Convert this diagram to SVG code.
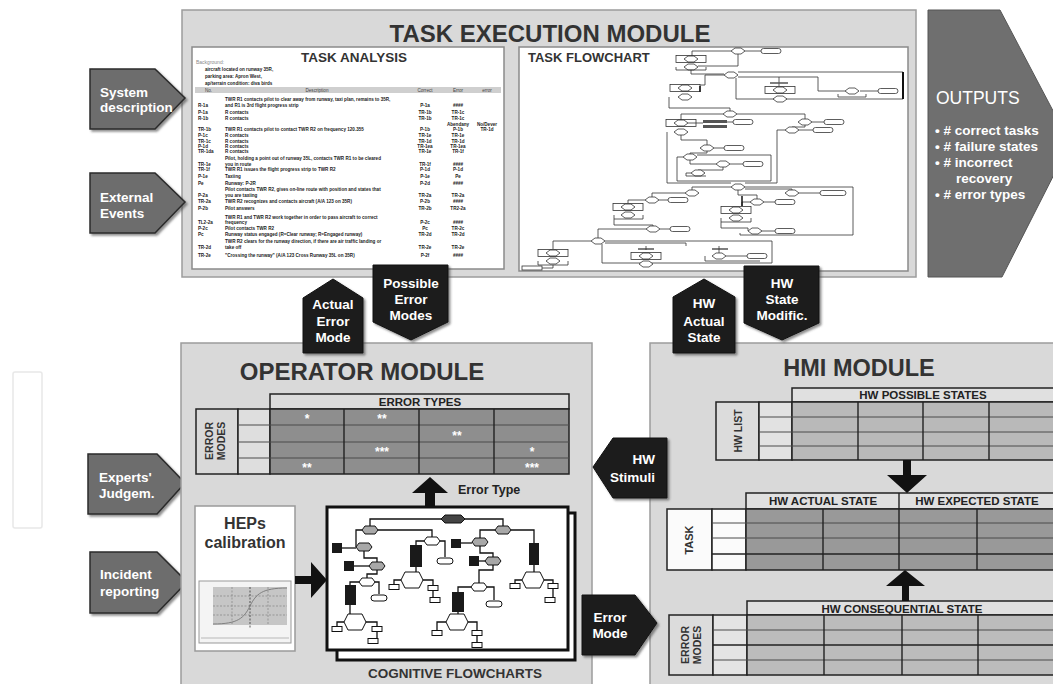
<svg xmlns="http://www.w3.org/2000/svg" width="1053" height="684" viewBox="0 0 1053 684">
<defs>
<style>
.mod{fill:#d9d9d9;stroke:#9c9c9c;stroke-width:1.5}
.ttl{font-family:"Liberation Sans",Arial,sans-serif;font-weight:bold;fill:#333}
.inp{fill:#6d6d6d;stroke:#2a2a2a;stroke-width:1.5;filter:url(#sh)}
.blk{fill:#1e1e1e;stroke:#111;stroke-width:1;filter:url(#sh)}
.wt{font-family:"Liberation Sans",Arial,sans-serif;font-weight:bold;fill:#fff;font-size:13.5px}
.tiny{font-family:"Liberation Sans",Arial,sans-serif;font-size:4.6px;fill:#222;font-weight:bold}
.fl{fill:none;stroke:#333;stroke-width:0.8}
.fd{fill:#fff;stroke:#333;stroke-width:0.8}
.cg{fill:#a8a8a8;stroke:#111;stroke-width:1}
.cw{fill:#fff;stroke:#111;stroke-width:1}
.ck{fill:#1a1a1a}
.cl{fill:none;stroke:#111;stroke-width:1.3}
.hd{font-family:"Liberation Sans",Arial,sans-serif;font-weight:bold;fill:#222;font-size:11.5px}
.tb{stroke:#222;stroke-width:1.5}
.rl{stroke:#4a4a4a;stroke-width:1}
.cl2{stroke:#222;stroke-width:1.4}
.st{font-family:"Liberation Sans",Arial,sans-serif;font-weight:bold;fill:#fff;font-size:12px;text-anchor:middle}
.arr{fill:#111}
</style>
<filter id="sh" x="-20%" y="-20%" width="140%" height="140%"><feDropShadow dx="2" dy="2" stdDeviation="1" flood-color="#444" flood-opacity="0.6"/></filter>
<path id="dm" d="M-7,0 L-3,-3 L3,-3 L7,0 L3,3 L-3,3 Z" class="fd"/>
<rect id="rr" x="-10" y="-2.5" width="20" height="5" rx="2.5" class="fd"/>
<rect id="rr2" x="-13" y="-2.5" width="26" height="5" rx="2.5" class="fd"/>
<rect id="bx" x="-15" y="-3.5" width="30" height="7" class="fl"/>
<polygon id="hx" points="-8,0 -5,-4 5,-4 8,0 5,4 -5,4"/>
<polygon id="hxb" points="-11,0 -7,-8 7,-8 11,0 7,8 -7,8" class="cw"/>
<rect id="sb" x="-5" y="-2.5" width="10" height="5" class="cw"/>
</defs>
<rect width="1053" height="684" fill="#fff"/>
<rect x="13" y="372" width="29" height="156" rx="2" fill="none" stroke="#e8e8e8" stroke-width="1.5"/>

<!-- TASK EXECUTION MODULE -->
<g id="task-execution-module">
<rect class="mod" x="182" y="10" width="734" height="267"/>
<text class="ttl" x="550" y="42" font-size="24" text-anchor="middle">TASK EXECUTION MODULE</text>
</g>

<g id="task-analysis">
<rect x="192" y="47" width="312" height="222" fill="#fff" stroke="#8a8a8a" stroke-width="1.5"/>
<text class="ttl" x="354" y="62" font-size="13.5" text-anchor="middle">TASK ANALYSIS</text>
<text class="tiny" x="196" y="63.5" style="fill:#8a8a8a;font-weight:normal;font-size:5px">Background:</text>
<text class="tiny" x="205" y="71">aircraft located on runway 35R,</text>
<text class="tiny" x="205" y="78">parking area: Apron West,</text>
<text class="tiny" x="205" y="85">ap/terrain condition: diva birds</text>
<rect x="195" y="87" width="306" height="6" fill="#cfcfcf"/>
<g class="tiny" style="font-weight:normal;fill:#444">
<text x="205" y="92">No.</text>
<text x="317" y="92" text-anchor="middle">Description</text>
<text x="425" y="92" text-anchor="middle">Correct</text>
<text x="458" y="92" text-anchor="middle">Error</text>
<text x="487" y="92" text-anchor="middle">error</text>
</g>
<g class="tiny">
<text x="225" y="100.6">TWR R1 contacts pilot to clear away from runway, taxi plan, remains to 35R,</text>
<text x="198" y="106.6">R-1a</text><text x="225" y="106.6">and R1 is 3rd flight progress strip</text><text x="425" y="106.6" text-anchor="middle">P-1a</text><text x="458" y="106.6" text-anchor="middle">####</text>
<text x="198" y="113.6">P-1a</text><text x="225" y="113.6">R contacts</text><text x="425" y="113.6" text-anchor="middle">TR-1b</text><text x="458" y="113.6" text-anchor="middle">TR-1c</text>
<text x="198" y="119.6">R-1b</text><text x="225" y="119.6">R contacts</text><text x="425" y="119.6" text-anchor="middle">TR-1b</text><text x="458" y="119.6" text-anchor="middle">TR-1c</text>
<text x="458" y="125.6" text-anchor="middle">Abendany</text><text x="487" y="125.6" text-anchor="middle">No/Dever</text>
<text x="198" y="130.6">TR-1b</text><text x="225" y="130.6">TWR R1 contacts pilot to contact TWR R2 on frequency 120.355</text><text x="425" y="130.6" text-anchor="middle">P-1b</text><text x="458" y="130.6" text-anchor="middle">P-1b</text><text x="487" y="130.6" text-anchor="middle">TR-1d</text>
<text x="198" y="136.6">P-1c</text><text x="225" y="136.6">R contacts</text><text x="425" y="136.6" text-anchor="middle">TR-1e</text><text x="458" y="136.6" text-anchor="middle">TR-1e</text>
<text x="198" y="142.6">TR-1c</text><text x="225" y="142.6">R contacts</text><text x="425" y="142.6" text-anchor="middle">TR-1d</text><text x="458" y="142.6" text-anchor="middle">TR-1d</text>
<text x="198" y="147.6">P-1d</text><text x="225" y="147.6">R contacts</text><text x="425" y="147.6" text-anchor="middle">TR-1ea</text><text x="458" y="147.6" text-anchor="middle">TR-1ea</text>
<text x="198" y="152.6">TR-1da</text><text x="225" y="152.6">R contacts</text><text x="425" y="152.6" text-anchor="middle">TR-1e</text><text x="458" y="152.6" text-anchor="middle">TR-1f</text>
<text x="225" y="159.6">Pilot, holding a point out of runway 35L, contacts TWR R1 to be cleared</text>
<text x="198" y="165.6">TR-1e</text><text x="225" y="165.6">you in route</text><text x="425" y="165.6" text-anchor="middle">TR-1f</text><text x="458" y="165.6" text-anchor="middle">####</text>
<text x="198" y="170.6">TR-1f</text><text x="225" y="170.6">TWR R1 issues the flight progress strip to TWR R2</text><text x="425" y="170.6" text-anchor="middle">P-1d</text><text x="458" y="170.6" text-anchor="middle">P-1d</text>
<text x="198" y="177.6">P-1e</text><text x="225" y="177.6">Taxiing</text><text x="425" y="177.6" text-anchor="middle">P-1e</text><text x="458" y="177.6" text-anchor="middle">Pe</text>
<text x="198" y="184.6">Pe</text><text x="225" y="184.6">Runway: P-2R</text><text x="425" y="184.6" text-anchor="middle">P-2d</text><text x="458" y="184.6" text-anchor="middle">####</text>
<text x="225" y="190.6">Pilot contacts TWR R2, gives on-line route with position and states that</text>
<text x="198" y="196.6">P-2a</text><text x="225" y="196.6">you are taxiing</text><text x="425" y="196.6" text-anchor="middle">TR-2a</text><text x="458" y="196.6" text-anchor="middle">TR-2a</text>
<text x="198" y="202.6">TR-2a</text><text x="225" y="202.6">TWR R2 recognizes and contacts aircraft (A/A 123 on 35R)</text><text x="425" y="202.6" text-anchor="middle">P-2b</text><text x="458" y="202.6" text-anchor="middle">####</text>
<text x="198" y="209.6">P-2b</text><text x="225" y="209.6">Pilot answers</text><text x="425" y="209.6" text-anchor="middle">TR-2b</text><text x="458" y="209.6" text-anchor="middle">TR2-2a</text>
<text x="225" y="218.6">TWR R1 and TWR R2 work together in order to pass aircraft to correct</text>
<text x="198" y="223.6">TL2-2a</text><text x="225" y="223.6">frequency</text><text x="425" y="223.6" text-anchor="middle">P-2c</text><text x="458" y="223.6" text-anchor="middle">####</text>
<text x="198" y="229.6">P-2c</text><text x="225" y="229.6">Pilot contacts TWR R2</text><text x="425" y="229.6" text-anchor="middle">Pc</text><text x="458" y="229.6" text-anchor="middle">TR-2c</text>
<text x="198" y="235.6">Pc</text><text x="225" y="235.6">Runway status engaged (R=Clear runway; R=Engaged runway)</text><text x="425" y="235.6" text-anchor="middle">TR-2d</text><text x="458" y="235.6" text-anchor="middle">TR-2d</text>
<text x="225" y="242.6">TWR R2 clears for the runway direction, if there are air traffic landing or</text>
<text x="198" y="248.6">TR-2d</text><text x="225" y="248.6">take off</text><text x="425" y="248.6" text-anchor="middle">TR-2e</text><text x="458" y="248.6" text-anchor="middle">TR-2e</text>
<text x="198" y="256.6">TR-2e</text><text x="225" y="256.6">"Crossing the runway" (A/A 123 Cross Runway 35L on 35R)</text><text x="425" y="256.6" text-anchor="middle">P-2f</text><text x="458" y="256.6" text-anchor="middle">####</text>
</g>
</g>

<g id="task-flowchart">
<rect x="519" y="47" width="389" height="224" fill="#fff" stroke="#8a8a8a" stroke-width="1.5"/>
<text class="ttl" x="528" y="62" font-size="13">TASK FLOWCHART</text>
<g>
<polyline class="fl" points="731,51 692,51 692,56"/>
<polyline class="fl" points="745,51 761,51"/>
<polyline class="fl" points="738,54 738,66 698,66"/>
<use href="#bx" x="691" y="59"/>
<use href="#dm" x="738" y="51"/><use href="#rr" x="771" y="51"/>
<use href="#dm" x="691" y="59"/><use href="#dm" x="691" y="67"/>
<polyline class="fl" points="676,67 676,70 706,70 706,67"/>
<polyline class="fl" points="691,70 691,74 724,74"/>
<use href="#dm" x="731" y="75"/>
<polyline class="fl" points="738,72 903,72 903,99 736,99 736,78"/>
<line x1="903" y1="72" x2="903" y2="99" stroke="#111" stroke-width="2"/>
<polyline class="fl" points="738,77 818,77 818,91 845,91"/>
<polyline class="fl" points="860,91 878,91"/>
<use href="#dm" x="852" y="91"/><use href="#rr" x="888" y="91"/>
<polyline class="fl" points="838,94 838,97 866,97 866,94"/>
<polyline class="fl" points="779,77 779,86"/>
<line x1="770" y1="83" x2="788" y2="83" stroke="#555" stroke-width="1.5"/>
<use href="#bx" x="780" y="90"/><use href="#dm" x="780" y="90"/><use href="#dm" x="780" y="99"/>
<polyline class="fl" points="724,75 705,75 705,85 700,85"/>
<use href="#bx" x="685" y="88"/><use href="#dm" x="685" y="88"/><use href="#dm" x="685" y="97"/>
<line x1="700" y1="86" x2="700" y2="92" stroke="#111" stroke-width="1.5"/>
<polyline class="fl" points="669,97 669,108 730,108 730,111"/>
<use href="#dm" x="730" y="114"/>
<polyline class="fl" points="723,114 681,114 681,120"/>
<polyline class="fl" points="737,114 805,114 805,119"/>
<use href="#bx" x="681" y="123"/><use href="#dm" x="681" y="123"/>
<rect x="703" y="120" width="24" height="3" fill="#555"/>
<rect x="703" y="125" width="24" height="3" fill="#555"/>
<polyline class="fl" points="688,123 703,123"/><polyline class="fl" points="727,122 733,122"/>
<use href="#rr" x="743" y="122"/>
<use href="#dm" x="681" y="132"/>
<use href="#dm" x="805" y="122"/><polyline class="fl" points="812,122 824,122"/><use href="#rr" x="834" y="122"/>
<polyline class="fl" points="805,125 805,127 792,127"/>
<use href="#dm" x="792" y="130"/><polyline class="fl" points="799,130 813,130"/><use href="#rr" x="823" y="130"/>
<polyline class="fl" points="785,130 777,130 777,183 745,183"/>
<polyline class="fl" points="667,132 667,183 731,183"/>
<polyline class="fl" points="681,135 681,140 707,140 707,145"/>
<use href="#dm" x="707" y="148"/><polyline class="fl" points="714,148 724,148"/><use href="#rr" x="734" y="148"/>
<polyline class="fl" points="707,151 707,153 690,153 690,154"/>
<use href="#dm" x="690" y="157"/>
<polyline class="fl" points="677,157 683,157"/>
<polyline class="fl" points="677,157 677,181 771,181 771,155 697,155"/>
<polyline class="fl" points="690,160 690,164 716,164"/>
<use href="#dm" x="723" y="164"/><polyline class="fl" points="730,164 743,164"/><use href="#rr" x="753" y="164"/>
<polyline class="fl" points="723,167 723,170 698,170"/>
<use href="#dm" x="698" y="173"/>
<polyline class="fl" points="691,173 686,173 686,176 706,176"/>
<use href="#dm" x="738" y="187"/>
<polyline class="fl" points="745,187 853,187 853,235 740,235 740,233"/>
<polyline class="fl" points="731,187 692,187 692,190"/>
<polyline class="fl" points="745,189 792,189 792,190"/>
<use href="#dm" x="692" y="193"/>
<use href="#dm" x="792" y="193"/><polyline class="fl" points="799,193 820,193"/><use href="#rr2" x="833" y="193"/>
<polyline class="fl" points="738,190 738,195 757,195 757,199"/>
<use href="#dm" x="757" y="202"/><polyline class="fl" points="764,202 775,202"/><use href="#rr" x="785" y="202"/>
<polyline class="fl" points="685,193 652,193 652,197"/>
<use href="#dm" x="652" y="200"/><polyline class="fl" points="659,200 668,200"/><use href="#rr" x="678" y="200"/>
<polyline class="fl" points="645,200 628,200 628,203"/>
<use href="#bx" x="628" y="207"/><use href="#dm" x="628" y="207"/><use href="#dm" x="628" y="215"/>
<polyline class="fl" points="614,215 614,219 643,219 643,215"/>
<polyline class="fl" points="750,202 742,202 742,206"/>
<use href="#bx" x="736" y="210"/><use href="#dm" x="736" y="210"/><use href="#dm" x="736" y="218"/>
<line x1="742" y1="196" x2="742" y2="206" stroke="#111" stroke-width="1.5"/>
<polyline class="fl" points="721,218 721,222 751,222 751,218"/>
<polyline class="fl" points="614,219 614,225 653,225 653,226"/>
<use href="#dm" x="653" y="229"/><polyline class="fl" points="660,229 670,229"/><use href="#rr" x="680" y="229"/>
<polyline class="fl" points="721,222 721,228 748,228 748,231"/>
<use href="#dm" x="755" y="231"/><polyline class="fl" points="762,231 775,231"/><use href="#rr" x="785" y="231"/>
<polyline class="fl" points="646,229 598,229 598,238"/>
<use href="#dm" x="598" y="241"/>
<polyline class="fl" points="591,241 553,241 553,249"/>
<polyline class="fl" points="605,241 772,241 772,263 602,263 602,244"/>
<polyline class="fl" points="605,243 686,243 686,246"/>
<use href="#bx" x="553" y="253"/><use href="#dm" x="553" y="253"/><use href="#dm" x="553" y="261"/>
<polyline class="fl" points="538,261 538,265 568,265 568,261"/>
<line x1="638" y1="249" x2="654" y2="249" stroke="#555" stroke-width="1.5"/>
<line x1="712" y1="249" x2="728" y2="249" stroke="#555" stroke-width="1.5"/>
<polyline class="fl" points="646,246 646,250"/>
<use href="#bx" x="646" y="256"/><use href="#dm" x="646" y="256"/><use href="#dm" x="646" y="264"/>
<polyline class="fl" points="719,246 719,253"/>
<use href="#dm" x="719" y="256"/><polyline class="fl" points="726,256 747,256"/><use href="#rr" x="757" y="256"/>
<polyline class="fl" points="705,256 705,261 760,261"/>
<polyline class="fl" points="553,265 553,268 542,268"/>
<rect x="522" y="266" width="20" height="4" class="fd"/>
</g>
</g>

<g id="outputs">
<polygon points="928,10 1000,10 1070,143 1002,277 928,277" fill="#6f6f6f" stroke="#555" stroke-width="1"/>
<text x="936" y="104" font-family="Liberation Sans, Arial, sans-serif" font-size="17.5" fill="#fff">OUTPUTS</text>
<g font-family="Liberation Sans, Arial, sans-serif" font-size="13.5" font-weight="bold" fill="#fff">
<text x="935" y="135">• # correct tasks</text>
<text x="935" y="151">• # failure states</text>
<text x="935" y="167">• #  incorrect</text>
<text x="956" y="183">recovery</text>
<text x="935" y="199">• # error types</text>
</g>
</g>

<g id="input-system-description">
<polygon class="inp" points="90,69 155,69 185,98 155,129 90,129"/>
<text class="wt" x="100" y="97">System</text><text class="wt" x="100" y="112">description</text>
</g>
<g id="input-external-events">
<polygon class="inp" points="90,173 155,173 185,202 155,233 90,233"/>
<text class="wt" x="100" y="202">External</text><text class="wt" x="100" y="218">Events</text>
</g>
<g id="input-experts-judgement">
<polygon class="inp" points="88,454 157,454 185,483 157,514 88,514"/>
<text class="wt" x="99" y="482">Experts'</text><text class="wt" x="99" y="498">Judgem.</text>
</g>
<g id="input-incident-reporting">
<polygon class="inp" points="90,552 157,552 187,582 157,613 90,613"/>
<text class="wt" x="100" y="579">Incident</text><text class="wt" x="100" y="596">reporting</text>
</g>

<!-- OPERATOR MODULE -->
<g id="operator-module">
<rect class="mod" x="181" y="343" width="411" height="350"/>
<text class="ttl" x="362" y="380" font-size="24" text-anchor="middle">OPERATOR MODULE</text>
</g>
<g id="error-types-table">
<rect class="tb" x="270" y="394" width="299" height="15" fill="#dcdcdc"/>
<text class="hd" x="420" y="405.5" text-anchor="middle">ERROR TYPES</text>
<rect class="tb" x="196" y="409" width="42" height="65" fill="#d9d9d9"/>
<rect class="tb" x="238" y="409" width="32" height="65" fill="#dedede"/>
<rect class="tb" x="270" y="409" width="299" height="65" fill="#8e8e8e"/>
<g class="rl"><line x1="238" y1="425" x2="569" y2="425"/><line x1="238" y1="442" x2="569" y2="442"/><line x1="238" y1="458" x2="569" y2="458"/></g>
<g class="cl2"><line x1="344" y1="409" x2="344" y2="474"/><line x1="419" y1="409" x2="419" y2="474"/><line x1="494" y1="409" x2="494" y2="474"/></g>
<g font-family="Liberation Sans, Arial, sans-serif" font-weight="bold" font-size="10.5" fill="#333" text-anchor="middle">
<text transform="translate(213,441) rotate(-90)">ERROR</text>
<text transform="translate(225,441) rotate(-90)">MODES</text>
</g>
<text class="st" x="307" y="423">*</text><text class="st" x="382" y="423">**</text>
<text class="st" x="457" y="439.5">**</text>
<text class="st" x="382" y="456">***</text><text class="st" x="532" y="456">*</text>
<text class="st" x="307" y="472">**</text><text class="st" x="532" y="472">***</text>
</g>
<g id="heps-calibration">
<rect x="195" y="506" width="100" height="145" fill="#fff" stroke="#9a9a9a" stroke-width="1.5"/>
<text class="ttl" x="245" y="529" font-size="16" text-anchor="middle">HEPs</text>
<text class="ttl" x="245" y="548" font-size="16" text-anchor="middle">calibration</text>
<rect x="199" y="581" width="92" height="62" fill="#f4f4f4" stroke="#999" stroke-width="1"/>
<rect x="213" y="587" width="74" height="38" fill="#c6c6c6"/>
<g stroke="#777" stroke-width="0.6" stroke-dasharray="2,1.5">
<line x1="232" y1="587" x2="232" y2="625"/><line x1="268" y1="587" x2="268" y2="625"/>
<line x1="213" y1="596" x2="287" y2="596"/><line x1="213" y1="606" x2="287" y2="606"/><line x1="213" y1="615" x2="287" y2="615"/>
</g>
<line x1="250" y1="587" x2="250" y2="628" stroke="#333" stroke-width="0.8" stroke-dasharray="2,1.5"/>
<path d="M213,624 C238,624 244,618 250,606 S262,588 287,588" fill="none" stroke="#777" stroke-width="0.9"/>
<line x1="201" y1="638" x2="289" y2="638" stroke="#aaa" stroke-width="0.8"/>
</g>
<g id="cognitive-flowcharts">
<rect x="337" y="513" width="238" height="147" fill="#fff" stroke="#111" stroke-width="3"/>
<rect x="327" y="507" width="241" height="143" fill="#fff" stroke="#111" stroke-width="3"/>
<g>
<polyline class="cl" points="441,519 370,519 370,526"/>
<polyline class="cl" points="465,519 503,519 503,526"/>
<polyline class="cl" points="362,530 356,530 356,547"/>
<polyline class="cl" points="378,530 432,530 432,537"/>
<polyline class="cl" points="342,548 356,548"/>
<polyline class="cl" points="364,551 364,558 377,558 377,562"/>
<polyline class="cl" points="354,566 369,566"/>
<polyline class="cl" points="377,570 377,574 367,574 367,578"/>
<polyline class="cl" points="375,582 379,582 379,594"/>
<polyline class="cl" points="359,582 350,582 350,585"/>
<polyline class="cl" points="350,605 350,614"/>
<polyline class="cl" points="344,622 337,622 337,627"/>
<polyline class="cl" points="366,622 377,622 377,639"/>
<polyline class="cl" points="424,541 416,541 416,545"/>
<polyline class="cl" points="440,541 445,541 445,557"/>
<polyline class="cl" points="416,567 416,572"/>
<polyline class="cl" points="401,580 394,580 394,585"/>
<polyline class="cl" points="423,580 433,580 433,598"/>
<polyline class="cl" points="495,530 480,530 480,538"/>
<polyline class="cl" points="511,530 534,530 534,543"/>
<polyline class="cl" points="461,543 472,543"/>
<polyline class="cl" points="480,546 480,553 493,553 493,557"/>
<polyline class="cl" points="479,561 485,561"/>
<polyline class="cl" points="493,565 493,570 479,570 479,583"/>
<polyline class="cl" points="471,587 458,587 458,592"/>
<polyline class="cl" points="487,587 494,587 494,600"/>
<polyline class="cl" points="458,612 458,614"/>
<polyline class="cl" points="446,622 437,622 437,631"/>
<polyline class="cl" points="468,622 477,622 477,643"/>
<polyline class="cl" points="534,565 534,572"/>
<polyline class="cl" points="522,580 515,580 515,584"/>
<polyline class="cl" points="544,580 553,580 553,598"/>
<polygon points="441,519 445,515 461,515 465,519 461,523 445,523" fill="#444" stroke="#111"/>
<use href="#hx" x="370" y="530" class="cg"/>
<use href="#hx" x="364" y="547" class="cg"/>
<use href="#hx" x="377" y="566" class="cg"/>
<use href="#hx" x="367" y="582" class="cw"/>
<rect x="371" y="595" width="16" height="6" rx="3" class="cw"/>
<use href="#hx" x="432" y="541" class="cw"/>
<rect x="437" y="558" width="16" height="6" rx="3" class="cw"/>
<use href="#hx" x="503" y="530" class="cg"/>
<use href="#hx" x="480" y="542" class="cg"/>
<use href="#hx" x="493" y="561" class="cg"/>
<use href="#hx" x="479" y="587" class="cw"/>
<rect x="486" y="601" width="16" height="6" rx="3" class="cw"/>
<rect class="ck" x="332" y="543" width="10" height="10"/>
<rect class="ck" x="344" y="561" width="10" height="10"/>
<rect class="ck" x="345" y="585" width="11" height="20"/>
<rect class="ck" x="410" y="545" width="12" height="22"/>
<rect class="ck" x="451" y="539" width="10" height="9"/>
<rect class="ck" x="469" y="556" width="10" height="10"/>
<rect class="ck" x="452" y="592" width="12" height="20"/>
<rect class="ck" x="529" y="543" width="10" height="22"/>
<use href="#hxb" x="355" y="622"/>
<use href="#hxb" x="412" y="580"/>
<use href="#hxb" x="457" y="622"/>
<use href="#hxb" x="533" y="580"/>
<use href="#sb" x="337" y="629"/><use href="#sb" x="377" y="629"/><use href="#sb" x="373" y="641"/>
<use href="#sb" x="394" y="587"/><use href="#sb" x="433" y="588"/><use href="#sb" x="435" y="600"/>
<use href="#sb" x="437" y="633"/><use href="#sb" x="477" y="633"/><use href="#sb" x="477" y="645"/>
<use href="#sb" x="515" y="586"/><use href="#sb" x="553" y="586"/><use href="#sb" x="550" y="600"/>
</g>
<text class="ttl" x="455" y="678" font-size="13.5" text-anchor="middle">COGNITIVE FLOWCHARTS</text>
</g>
<text class="ttl" x="458" y="494" font-size="12.5" style="fill:#222">Error Type</text>

<!-- HMI MODULE -->
<g id="hmi-module">
<rect class="mod" x="650" y="343" width="420" height="350"/>
<text class="ttl" x="859" y="376" font-size="23.5" text-anchor="middle">HMI MODULE</text>
</g>
<g id="hw-possible-states-table">
<rect class="tb" x="792" y="388" width="270" height="14" fill="#e0e0e0"/>
<text class="hd" x="923" y="399" text-anchor="middle">HW POSSIBLE STATES</text>
<rect class="tb" x="716" y="402" width="43" height="58" fill="#dcdcdc"/>
<rect class="tb" x="759" y="402" width="33" height="58" fill="#e2e2e2"/>
<rect class="tb" x="792" y="402" width="270" height="58" fill="#b9b9b9"/>
<g class="rl"><line x1="759" y1="417" x2="1062" y2="417"/><line x1="759" y1="432" x2="1062" y2="432"/><line x1="759" y1="446" x2="1062" y2="446"/></g>
<g class="cl2"><line x1="858" y1="402" x2="858" y2="460"/><line x1="923" y1="402" x2="923" y2="460"/><line x1="989" y1="402" x2="989" y2="460"/></g>
<text transform="translate(742,431) rotate(-90)" font-family="Liberation Sans, Arial, sans-serif" font-weight="bold" font-size="10.5" fill="#333" text-anchor="middle">HW LIST</text>
</g>
<g id="hw-actual-expected-table">
<rect class="tb" x="746" y="493" width="320" height="16" fill="#e0e0e0"/>
<text class="hd" x="823" y="505" text-anchor="middle">HW ACTUAL STATE</text>
<text class="hd" x="977" y="505" text-anchor="middle">HW EXPECTED STATE</text>
<rect class="tb" x="667" y="509" width="45" height="61" fill="#fbfbfb"/>
<rect class="tb" x="712" y="509" width="34" height="61" fill="#fbfbfb"/>
<rect class="tb" x="746" y="509" width="320" height="61" fill="#999"/>
<g class="rl"><line x1="712" y1="523" x2="1062" y2="523"/><line x1="712" y1="538" x2="1062" y2="538"/><line x1="712" y1="554" x2="1062" y2="554" stroke="#222" stroke-width="1.5"/></g>
<g class="cl2"><line x1="823" y1="509" x2="823" y2="570"/><line x1="899" y1="493" x2="899" y2="570"/><line x1="977" y1="509" x2="977" y2="570"/></g>
<text transform="translate(693,540) rotate(-90)" font-family="Liberation Sans, Arial, sans-serif" font-weight="bold" font-size="11" fill="#333" text-anchor="middle">TASK</text>
</g>
<g id="hw-consequential-table">
<rect class="tb" x="747" y="601" width="320" height="14" fill="#e0e0e0"/>
<text class="hd" x="902" y="612.5" text-anchor="middle" font-size="12">HW CONSEQUENTIAL STATE</text>
<rect class="tb" x="669" y="615" width="44" height="60" fill="#dcdcdc"/>
<rect class="tb" x="713" y="615" width="34" height="60" fill="#e4e4e4"/>
<rect class="tb" x="747" y="615" width="320" height="60" fill="#bcbcbc"/>
<g class="rl"><line x1="713" y1="630" x2="1062" y2="630"/><line x1="713" y1="645" x2="1062" y2="645" stroke="#222" stroke-width="1.5"/><line x1="713" y1="660" x2="1062" y2="660"/></g>
<g class="cl2"><line x1="824" y1="615" x2="824" y2="675"/><line x1="902" y1="615" x2="902" y2="675"/><line x1="978" y1="615" x2="978" y2="675"/></g>
<g font-family="Liberation Sans, Arial, sans-serif" font-weight="bold" font-size="10.5" fill="#333" text-anchor="middle">
<text transform="translate(689,645) rotate(-90)">ERROR</text>
<text transform="translate(701,645) rotate(-90)">MODES</text>
</g>
</g>

<!-- black labelled flow arrows -->
<g id="actual-error-mode">
<polygon class="blk" points="303,298 333,279 363,298 363,353 303,353"/>
<text class="wt" x="333" y="309" text-anchor="middle">Actual</text><text class="wt" x="333" y="326" text-anchor="middle">Error</text><text class="wt" x="333" y="342" text-anchor="middle">Mode</text>
</g>
<g id="possible-error-modes">
<polygon class="blk" points="373,265 448,265 448,322 411,340 373,322"/>
<text class="wt" x="411" y="288" text-anchor="middle">Possible</text><text class="wt" x="411" y="304" text-anchor="middle">Error</text><text class="wt" x="411" y="320" text-anchor="middle">Modes</text>
</g>
<g id="hw-actual-state">
<polygon class="blk" points="673,297 704,279 735,297 735,353 673,353"/>
<text class="wt" x="704" y="308" text-anchor="middle">HW</text><text class="wt" x="704" y="326" text-anchor="middle">Actual</text><text class="wt" x="704" y="342" text-anchor="middle">State</text>
</g>
<g id="hw-state-modific">
<polygon class="blk" points="744,266 819,266 819,323 782,340 744,323"/>
<text class="wt" x="782" y="288" text-anchor="middle">HW</text><text class="wt" x="782" y="304" text-anchor="middle">State</text><text class="wt" x="782" y="320" text-anchor="middle">Modific.</text>
</g>
<g id="hw-stimuli">
<polygon class="blk" points="593,467 613,438 667,438 667,498 613,498"/>
<text class="wt" x="655" y="464" text-anchor="end">HW</text><text class="wt" x="655" y="482" text-anchor="end">Stimuli</text>
</g>
<g id="error-mode">
<polygon class="blk" points="582,595 635,595 657,623 635,655 582,655"/>
<text class="wt" x="610" y="622" text-anchor="middle">Error</text><text class="wt" x="610" y="638" text-anchor="middle">Mode</text>
</g>

<g id="connectors">
<polygon class="arr" points="425,507 425,493 412,493 430,477 448,493 435,493 435,507"/>
<polygon class="arr" points="295,576 311,576 311,562 327,580 311,598 311,584 295,584"/>
<polygon class="arr" points="903,460 911,460 911,475 927,475 907,493 887,475 903,475"/>
<polygon class="arr" points="902,601 902,586 886,586 905,570 925,586 909,586 909,601"/>
</g>
</svg>
